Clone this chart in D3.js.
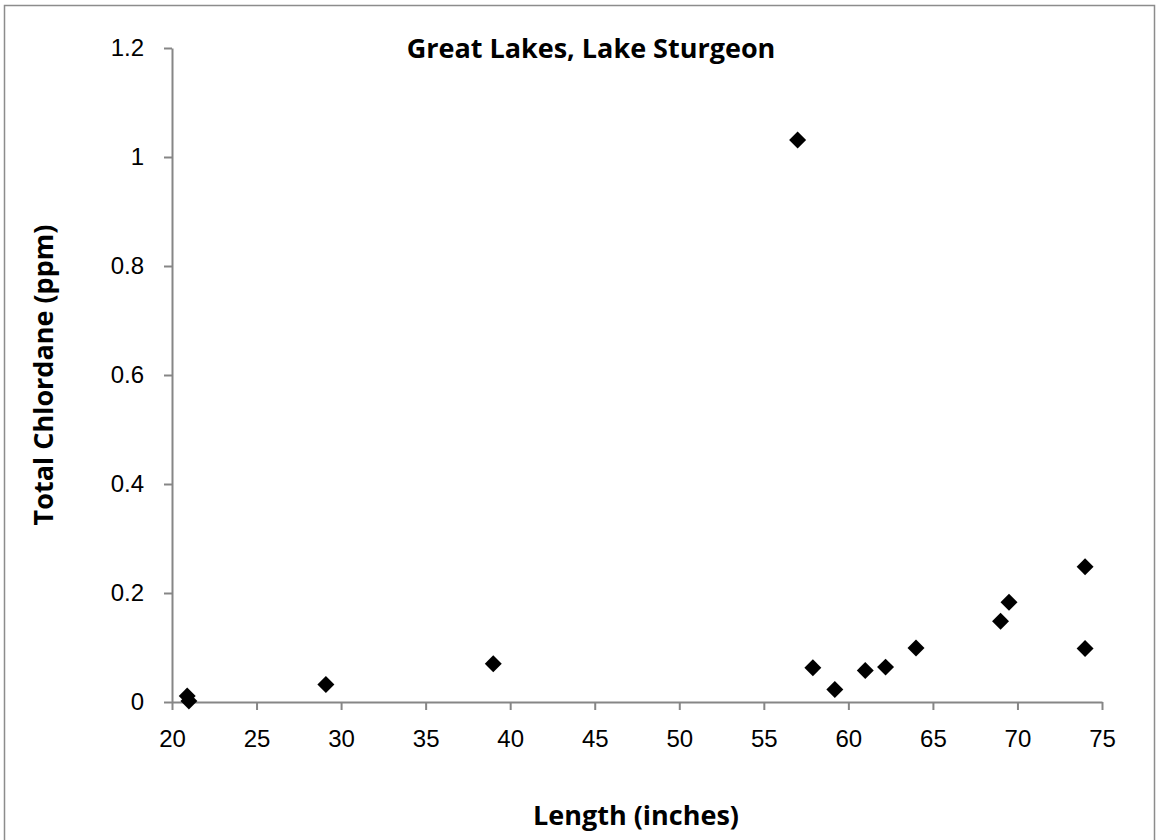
<!DOCTYPE html>
<html>
<head>
<meta charset="utf-8">
<script src="https://cdn.jsdelivr.net/npm/d3@7"></script>
<style>
  body { margin: 0; background: #fff; }
  svg { display: block; font-family: "Open Sans", "Liberation Sans", sans-serif; }
</style>
</head>
<body>
<div id="chart-container"></div>
<script>
// Length (inches) and total chlordane (ppm)
const lengths = [20.9, 21.0, 29.1, 39.0, 57.0, 57.9, 59.2, 61.0, 62.2, 64.0, 69.0, 69.5, 74.0, 74.0];
const chlordane = [0.011, 0.002, 0.032, 0.070, 1.031, 0.063, 0.023, 0.058, 0.064, 0.099, 0.148, 0.183, 0.248, 0.098];
const xTicks = [20, 25, 30, 35, 40, 45, 50, 55, 60, 65, 70, 75];
const yTicks = [0, 0.2, 0.4, 0.6, 0.8, 1, 1.2];

const points = lengths.map((d, i) => ({x: d, y: chlordane[i]}));

const W = 1156, H = 840;
const margin = {top: 48, right: 54, bottom: 138, left: 172},
      width = W - margin.left - margin.right,
      height = H - margin.top - margin.bottom;

const svg = d3.select("#chart-container").append("svg")
    .attr("width", W)
    .attr("height", H);

// chart frame
svg.append("rect")
    .attr("x", 4.5).attr("y", 5.5)
    .attr("width", 1150).attr("height", 840)
    .attr("fill", "none")
    .attr("stroke", "#8c8c8c")
    .attr("stroke-width", 1.5);

const g = svg.append("g")
    .attr("transform", `translate(${margin.left}, ${margin.top})`);

const x = d3.scaleLinear().domain([20, 75]).range([0, width]);
const y = d3.scaleLinear().domain([0, 1.2]).range([height, 0]);

const axisColor = "#868686";

const xAxis = g.append("g")
    .attr("transform", `translate(0, ${height})`)
    .call(d3.axisBottom(x).tickValues(xTicks).tickSize(8).tickPadding(20).tickSizeOuter(0));

const yAxis = g.append("g")
    .call(d3.axisLeft(y).tickValues(yTicks).tickSize(8).tickPadding(20).tickSizeOuter(0)
        .tickFormat(d => d3.format("")(d)));

[xAxis, yAxis].forEach(a => {
    a.select(".domain").attr("stroke", axisColor).attr("stroke-width", 2);
    a.selectAll(".tick line").attr("stroke", axisColor).attr("stroke-width", 2);
    a.selectAll(".tick text").attr("fill", "#000").style("font-size", "24px");
});

// title
svg.append("text")
    .attr("x", 591)
    .attr("y", 58)
    .attr("text-anchor", "middle")
    .style("font-size", "27px")
    .style("font-weight", "bold")
    .text("Great Lakes, Lake Sturgeon");

// x-axis label
svg.append("text")
    .attr("x", 636)
    .attr("y", 825)
    .attr("text-anchor", "middle")
    .style("font-size", "27px")
    .style("font-weight", "bold")
    .text("Length (inches)");

// y-axis label
svg.append("text")
    .attr("transform", "rotate(-90)")
    .attr("x", -375)
    .attr("y", 53)
    .attr("text-anchor", "middle")
    .style("font-size", "27px")
    .style("font-weight", "bold")
    .text("Total Chlordane (ppm)");

// diamonds
const diamond = d3.symbol().type(d3.symbolSquare).size(144);
g.selectAll(".pt")
    .data(points)
    .enter().append("path")
    .attr("class", "pt")
    .attr("d", diamond)
    .attr("transform", d => `translate(${x(d.x)}, ${y(d.y)}) rotate(45)`)
    .attr("fill", "#000");
</script>
</body>
</html>
